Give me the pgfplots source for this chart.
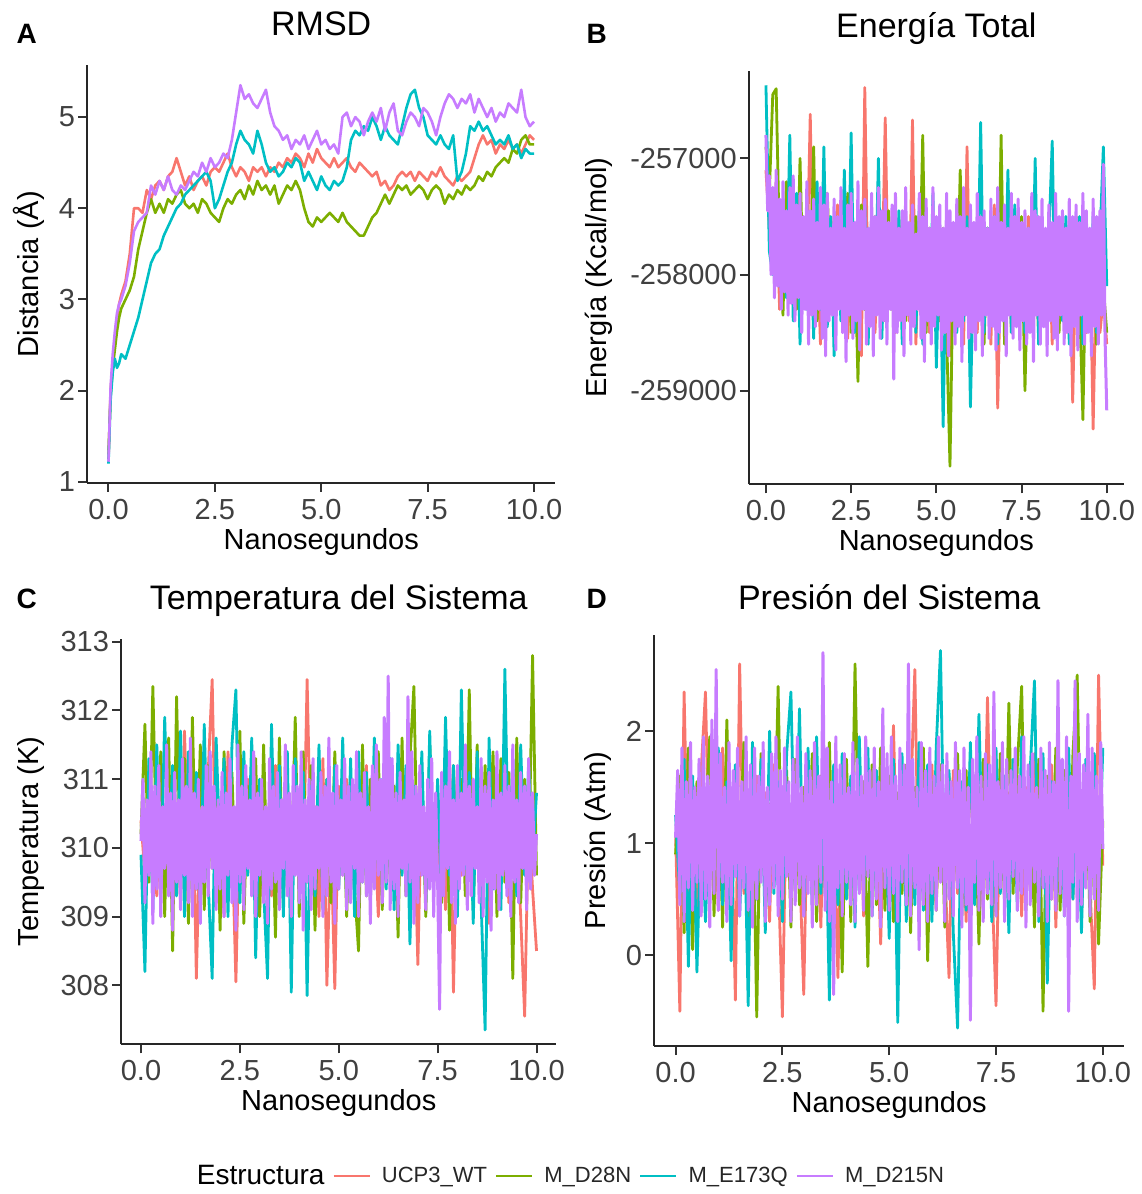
\documentclass[border=0pt]{standalone}
\usepackage{pgfplots}
\pgfplotsset{compat=1.18}
\usepackage{pgfplotstable}
\usepackage{fontspec}
\setmainfont{Liberation Sans}
\newcommand{\fs}[1]{\fontsize{#1}{#1}\selectfont}
\definecolor{cR}{HTML}{F8766D}
\definecolor{cG}{HTML}{7CAE00}
\definecolor{cC}{HTML}{00BFC4}
\definecolor{cP}{HTML}{C77CFF}

\pgfplotstableread{
t r g c p
0.00 1.25 1.30 1.20 1.22
0.05 2.00 1.95 1.90 2.05
0.10 2.30 2.25 2.20 2.40
0.15 2.55 2.45 2.35 2.65
0.20 2.80 2.65 2.25 2.85
0.25 2.95 2.80 2.30 2.95
0.30 3.05 2.90 2.40 3.00
0.40 3.20 3.00 2.35 3.15
0.50 3.50 3.10 2.50 3.40
0.60 4.00 3.25 2.65 3.75
0.70 4.00 3.55 2.80 3.85
0.80 3.95 3.75 3.00 3.90
0.90 4.20 3.95 3.20 3.95
1.00 4.10 4.10 3.40 4.25
1.10 4.25 3.95 3.50 4.15
1.20 4.30 4.05 3.55 4.30
1.30 4.20 3.95 3.70 4.20
1.40 4.35 4.10 3.80 4.35
1.50 4.40 4.05 3.90 4.20
1.60 4.55 4.15 4.00 4.15
1.70 4.40 4.20 4.05 4.25
1.80 4.25 4.05 4.15 4.20
1.90 4.35 4.00 4.20 4.30
2.00 4.20 4.05 4.25 4.40
2.10 4.30 3.95 4.30 4.35
2.20 4.35 4.10 4.35 4.50
2.30 4.25 4.05 4.40 4.40
2.40 4.40 3.95 4.30 4.55
2.50 4.45 3.90 4.00 4.45
2.60 4.40 3.85 4.10 4.50
2.70 4.50 4.00 4.25 4.60
2.80 4.60 4.10 4.40 4.55
2.90 4.45 4.05 4.50 4.75
3.00 4.35 4.15 4.70 5.05
3.10 4.45 4.20 4.85 5.35
3.20 4.40 4.10 4.75 5.20
3.30 4.30 4.25 4.70 5.25
3.40 4.45 4.15 4.60 5.15
3.50 4.40 4.30 4.85 5.10
3.60 4.45 4.20 4.70 5.20
3.70 4.35 4.25 4.50 5.30
3.80 4.45 4.15 4.40 5.05
3.90 4.40 4.25 4.45 4.90
4.00 4.50 4.05 4.35 4.85
4.10 4.45 4.15 4.40 4.75
4.20 4.55 4.25 4.50 4.80
4.30 4.50 4.20 4.45 4.65
4.40 4.60 4.30 4.55 4.75
4.50 4.55 4.20 4.50 4.70
4.60 4.45 4.00 4.30 4.80
4.70 4.60 3.85 4.40 4.65
4.80 4.50 3.80 4.30 4.75
4.90 4.65 3.90 4.20 4.85
5.00 4.55 3.85 4.35 4.70
5.10 4.50 3.90 4.25 4.75
5.20 4.45 3.95 4.20 4.65
5.30 4.55 3.90 4.30 4.70
5.40 4.45 3.85 4.25 4.60
5.50 4.50 3.95 4.30 5.00
5.60 4.55 3.85 4.45 5.05
5.70 4.45 3.80 4.75 4.90
5.80 4.40 3.75 4.85 5.00
5.90 4.50 3.70 4.80 4.95
6.00 4.45 3.70 4.90 4.80
6.10 4.40 3.80 4.85 4.95
6.20 4.35 3.90 5.00 5.05
6.30 4.40 3.95 4.90 4.95
6.40 4.25 4.05 4.75 5.10
6.50 4.30 4.15 4.90 4.85
6.60 4.20 4.05 4.80 5.05
6.70 4.25 4.15 4.75 5.15
6.80 4.35 4.25 4.70 4.85
6.90 4.40 4.20 4.90 4.80
7.00 4.35 4.25 5.10 4.95
7.10 4.40 4.15 5.25 5.05
7.20 4.30 4.20 5.30 5.00
7.30 4.40 4.25 5.10 4.90
7.40 4.35 4.20 5.00 5.10
7.50 4.30 4.10 4.80 5.05
7.60 4.40 4.20 4.75 4.95
7.70 4.35 4.25 4.70 4.80
7.80 4.45 4.20 4.80 5.00
7.90 4.35 4.05 4.70 5.15
8.00 4.30 4.15 4.65 5.25
8.10 4.25 4.10 4.80 5.20
8.20 4.35 4.20 4.30 5.10
8.30 4.30 4.15 4.40 5.20
8.40 4.35 4.25 4.60 5.15
8.50 4.40 4.20 4.90 5.25
8.60 4.55 4.25 4.85 5.05
8.70 4.70 4.35 4.95 5.20
8.80 4.80 4.30 4.85 5.10
8.90 4.70 4.40 4.90 5.00
9.00 4.75 4.35 4.80 5.10
9.10 4.60 4.45 4.70 4.95
9.20 4.70 4.50 4.75 5.05
9.30 4.65 4.55 4.70 5.00
9.40 4.75 4.50 4.80 5.15
9.50 4.65 4.65 4.65 5.10
9.60 4.70 4.60 4.70 5.05
9.70 4.60 4.75 4.55 5.30
9.80 4.70 4.80 4.65 5.00
9.90 4.80 4.70 4.60 4.90
10.00 4.75 4.70 4.60 4.95
}\rmsd

\pgfplotstableread{
t r g c
0.0 -257100 -256900 -256370
0.1 -257600 -257300 -257800
0.2 -257900 -256450 -258000
0.3 -257200 -256400 -257400
0.4 -258300 -257800 -258100
0.5 -257500 -258350 -257600
0.6 -258100 -257200 -258200
0.7 -257400 -258000 -256800
0.8 -258200 -257500 -258400
0.9 -257600 -258300 -257300
1.0 -258450 -257000 -258600
1.1 -257500 -258200 -257700
1.2 -258000 -257400 -258300
1.3 -256620 -258100 -257500
1.4 -258300 -256900 -258550
1.5 -257700 -258400 -257200
1.6 -258600 -257600 -258300
1.7 -257300 -258500 -256900
1.8 -258200 -257300 -258450
1.9 -257700 -258100 -257500
2.0 -258400 -257500 -258700
2.1 -257400 -258300 -257800
2.2 -258300 -257800 -258400
2.3 -257600 -258200 -257100
2.4 -258550 -257300 -258300
2.5 -257500 -258500 -256780
2.6 -258200 -257700 -258500
2.7 -257700 -258920 -257600
2.8 -258700 -257400 -258200
2.9 -256390 -258300 -257400
3.0 -258300 -257600 -258600
3.1 -257600 -258400 -257500
3.2 -258500 -257500 -258300
3.3 -257700 -258200 -257000
3.4 -258200 -257600 -258550
3.5 -256650 -258400 -257700
3.6 -258300 -257450 -258200
3.7 -257550 -258300 -257600
3.8 -258500 -257700 -258400
3.9 -257600 -258200 -257450
4.0 -258250 -257500 -258600
4.1 -257700 -258400 -257500
4.2 -258400 -257600 -258300
4.3 -256670 -258300 -257700
4.4 -258600 -257500 -258500
4.5 -257600 -258200 -257400
4.6 -258300 -256800 -258600
4.7 -257800 -258500 -257500
4.8 -258500 -257600 -258400
4.9 -257500 -258300 -257300
5.0 -258400 -257700 -258800
5.1 -257650 -258400 -257700
5.2 -258300 -257600 -259310
5.3 -257600 -258500 -257500
5.4 -258700 -259650 -258300
5.5 -257700 -257800 -257600
5.6 -258300 -258400 -258500
5.7 -257500 -257100 -257700
5.8 -258600 -258300 -258400
5.9 -256900 -257600 -257500
6.0 -258400 -258500 -259140
6.1 -257700 -257700 -257800
6.2 -258500 -258300 -258300
6.3 -257600 -257500 -256690
6.4 -258300 -258600 -258500
6.5 -257800 -257600 -257600
6.6 -258600 -258400 -258300
6.7 -257400 -257700 -257500
6.8 -259150 -258500 -258600
6.9 -257700 -256800 -257700
7.0 -258300 -258600 -258400
7.1 -257600 -257600 -257100
7.2 -258500 -258300 -258500
7.3 -257500 -257700 -257400
7.4 -258400 -258400 -258300
7.5 -257700 -257500 -257700
7.6 -258600 -259000 -258500
7.7 -257500 -257700 -257600
7.8 -258300 -258300 -258400
7.9 -257600 -257600 -257000
8.0 -258500 -258500 -258600
8.1 -257700 -257700 -257500
8.2 -258400 -258400 -258300
8.3 -257600 -257500 -257700
8.4 -258600 -258300 -256850
8.5 -257500 -257600 -258500
8.6 -258300 -258500 -257600
8.7 -257700 -257600 -258400
8.8 -258500 -258300 -257500
8.9 -257600 -257700 -258600
9.0 -259100 -258400 -257700
9.1 -257700 -257500 -258300
9.2 -258400 -258200 -257500
9.3 -257600 -259250 -258600
9.4 -258500 -257600 -257600
9.5 -257700 -258400 -258400
9.6 -259330 -257700 -257500
9.7 -257800 -258600 -258500
9.8 -258500 -257800 -257700
9.9 -258200 -258100 -256900
10.0 -258600 -258500 -258100
}\energia

\pgfplotstableread{
t r g c
0.0 310.4 310.2 309.9
0.1 309.6 311.8 308.2
0.2 311.2 309.5 311.3
0.3 310.1 312.35 309.1
0.4 309.3 309.8 311.5
0.5 310.8 311.4 309.4
0.6 309.9 309.0 311.9
0.7 311.0 311.6 309.8
0.8 309.5 308.5 311.2
0.9 310.6 312.2 309.3
1.0 309.2 309.6 311.7
1.1 311.7 311.3 309.0
1.2 309.8 308.9 311.4
1.3 311.3 311.9 309.6
1.4 308.1 309.4 311.1
1.5 310.5 311.5 309.2
1.6 309.7 309.1 311.8
1.7 311.1 311.2 309.5
1.8 312.45 309.7 308.1
1.9 309.4 311.0 311.6
2.0 310.3 308.8 309.9
2.1 309.0 311.4 311.3
2.2 311.4 309.6 309.0
2.3 310.2 311.1 311.5
2.4 308.05 309.3 312.3
2.5 310.7 311.7 309.2
2.6 309.6 308.9 311.4
2.7 311.0 310.9 309.6
2.8 309.9 309.5 311.6
2.9 310.4 311.3 308.4
3.0 309.1 309.0 311.0
3.1 310.8 311.5 309.4
3.2 310.0 309.4 308.1
3.3 309.3 310.8 311.8
3.4 311.2 308.7 309.5
3.5 310.5 311.6 311.2
3.6 309.7 309.2 309.0
3.7 310.9 311.0 311.4
3.8 309.2 309.6 307.9
3.9 311.1 311.9 311.3
4.0 310.3 309.0 309.7
4.1 309.5 311.4 311.1
4.2 312.45 309.5 307.85
4.3 309.8 311.2 310.9
4.4 310.6 308.8 309.3
4.5 309.0 311.3 311.5
4.6 311.3 309.7 309.1
4.7 308.0 311.0 311.0
4.8 310.2 309.2 309.6
4.9 307.95 311.4 311.2
5.0 310.9 309.5 309.4
5.1 309.6 311.1 311.6
5.2 311.0 309.0 309.2
5.3 310.1 310.8 311.3
5.4 309.4 309.4 309.0
5.5 310.7 308.5 311.4
5.6 309.9 311.5 309.5
5.7 311.2 309.3 311.1
5.8 309.3 311.0 309.3
5.9 310.4 309.6 311.6
6.0 309.0 311.4 309.7
6.1 310.8 309.1 311.0
6.2 311.5 311.2 309.4
6.3 309.7 309.5 311.3
6.4 310.3 310.9 309.1
6.5 309.2 308.7 311.5
6.6 311.0 311.6 309.6
6.7 310.0 309.3 311.2
6.8 309.5 311.3 308.6
6.9 310.6 312.35 310.9
7.0 308.3 309.4 309.4
7.1 310.9 311.1 311.4
7.2 309.8 309.0 309.2
7.3 311.1 311.5 311.7
7.4 310.2 309.6 309.5
7.5 309.4 310.8 311.0
7.6 310.5 309.2 309.3
7.7 309.1 311.4 311.9
7.8 311.3 308.8 309.6
7.9 307.9 311.2 311.2
8.0 310.7 309.5 309.0
8.1 309.6 311.0 312.3
8.2 310.2 309.3 309.7
8.3 311.0 312.3 311.1
8.4 309.3 309.1 308.9
8.5 310.8 311.5 311.4
8.6 309.9 309.4 309.2
8.7 310.4 311.2 307.35
8.8 308.9 309.7 311.6
8.9 311.2 311.4 309.4
9.0 310.1 309.0 311.0
9.1 309.5 311.3 309.1
9.2 310.6 309.5 312.6
9.3 309.2 311.1 309.5
9.4 311.0 308.1 311.3
9.5 310.3 311.6 309.3
9.6 309.0 309.2 311.5
9.7 307.55 311.0 309.6
9.8 310.5 309.6 311.2
9.9 309.4 312.8 309.8
10.0 308.5 309.6 310.8
}\temp

\pgfplotstableread{
t r g c
0.0 1.10 0.90 1.25
0.1 -0.50 1.60 0.55
0.2 2.35 0.20 1.75
0.3 0.45 1.85 -0.10
0.4 1.40 0.05 1.60
0.5 0.20 1.55 -0.15
0.6 1.65 0.50 1.30
0.7 2.35 1.20 0.30
0.8 0.60 1.95 1.40
0.9 1.50 0.35 0.85
1.0 0.40 1.75 1.85
1.1 1.85 0.25 0.45
1.2 0.85 2.10 1.55
1.3 1.30 0.60 -0.05
1.4 -0.40 1.45 1.70
1.5 2.60 0.90 0.35
1.6 0.55 1.90 1.45
1.7 1.25 0.15 -0.45
1.8 0.35 1.55 1.90
1.9 1.60 -0.55 0.50
2.0 0.75 1.80 1.75
2.1 1.45 0.40 0.20
2.2 0.30 1.35 2.00
2.3 1.70 0.65 0.55
2.4 0.80 2.40 1.55
2.5 -0.55 0.35 0.30
2.6 1.55 1.65 1.80
2.7 0.45 0.25 2.35
2.8 1.35 1.75 0.60
2.9 0.85 0.45 2.20
3.0 -0.35 1.50 0.35
3.1 1.65 0.70 1.85
3.2 0.55 1.80 0.40
3.3 1.40 0.30 1.95
3.4 0.25 1.60 0.55
3.5 1.75 0.55 1.50
3.6 0.65 1.90 -0.40
3.7 1.25 0.40 1.70
3.8 -0.20 1.45 0.45
3.9 1.60 -0.15 1.80
4.0 0.70 1.75 0.50
4.1 1.45 0.30 1.60
4.2 0.45 2.60 0.25
4.3 1.80 0.60 1.95
4.4 0.35 1.55 0.55
4.5 1.50 -0.10 1.85
4.6 0.80 1.70 0.35
4.7 1.35 0.45 1.65
4.8 0.10 1.85 0.80
4.9 1.55 0.40 1.40
5.0 0.60 1.60 0.15
5.1 2.05 0.30 1.75
5.2 0.40 1.45 -0.60
5.3 1.60 0.55 1.80
5.4 0.70 1.70 0.30
5.5 1.35 0.20 1.65
5.6 2.55 1.50 0.45
5.7 0.30 0.60 1.90
5.8 1.45 1.85 0.40
5.9 0.55 -0.05 1.70
6.0 1.70 1.55 0.30
6.1 0.45 0.40 1.85
6.2 1.55 1.70 2.72
6.3 0.80 0.25 0.50
6.4 -0.20 1.60 1.65
6.5 1.65 0.50 0.20
6.6 0.55 1.80 -0.65
6.7 1.40 0.35 1.55
6.8 0.30 1.65 0.40
6.9 1.75 0.60 1.90
7.0 0.65 1.45 0.45
7.1 1.50 0.10 2.15
7.2 0.40 1.75 0.60
7.3 2.30 0.50 1.70
7.4 0.70 1.60 0.30
7.5 -0.45 0.35 1.85
7.6 1.55 1.80 0.55
7.7 0.50 0.45 1.60
7.8 1.45 2.25 0.20
7.9 0.75 0.55 1.75
8.0 1.60 1.70 0.40
8.1 0.35 2.40 1.95
8.2 1.50 0.40 0.55
8.3 0.60 1.55 1.65
8.4 1.80 0.25 2.45
8.5 0.45 1.75 0.30
8.6 1.35 -0.50 1.80
8.7 0.65 1.60 -0.25
8.8 1.70 0.50 1.55
8.9 0.25 1.85 0.45
9.0 1.55 0.40 1.70
9.1 0.75 1.65 0.35
9.2 1.40 0.30 1.85
9.3 0.50 1.80 0.50
9.4 1.65 2.50 1.60
9.5 0.35 0.45 0.20
9.6 1.50 1.70 1.75
9.7 0.60 0.30 0.55
9.8 -0.30 1.55 1.80
9.9 2.50 0.10 0.65
10.0 0.80 1.20 1.85
}\presion

\pgfplotsset{
  panel/.style={
    scale only axis,
    axis lines*=left,
    axis line style={line width=2pt, black!85, -},
    tick align=outside,
    major tick length=9pt,
    tick style={line width=2pt, black!80},
    xmin=-0.5, xmax=10.5,
    xtick={0,2.5,5,7.5,10},
    xticklabels={0.0,2.5,5.0,7.5,10.0},
    scaled ticks=false,
    ticklabel style={font=\fs{29}, text=black!75},
    /pgf/number format/assume math mode=true,
    /pgf/number format/1000 sep={},
    xticklabel style={inner sep=0pt, anchor=north, yshift=-7pt},
    yticklabel style={inner sep=0pt, anchor=east, xshift=-3pt},
    label style={font=\fs{29}, text=black},
    xlabel={Nanosegundos},
    title style={font=\fs{34}, text=black, anchor=base, inner sep=0pt},
    clip=false,
  },
  ser/.style={line width=#1, line join=round},
}

\begin{document}
\begin{tikzpicture}[x=1pt,y=1pt]
\path[use as bounding box] (0,0) rectangle (1141,1194);

% ---------- A: RMSD ----------
\begin{axis}[panel, at={(87.2pt,711.1pt)}, anchor=south west,
  width=468.1pt, height=417.4pt,
  ymin=0.988, ymax=5.566, ytick={1,2,3,4,5}, yticklabels={1,2,3,4,5},
  ylabel={Distancia (Å)},
  ylabel style={at={(axis description cs:-0.103,0.5)}, anchor=base, inner sep=0pt},
  xlabel style={at={(axis description cs:0.5,-0.1591)}, anchor=base, inner sep=0pt},
  title={RMSD}, title style={at={(axis description cs:0.5,1.057)}}]
\addplot[cR, ser=2.6pt] table[x=t,y=r] {\rmsd};
\addplot[cG, ser=2.6pt] table[x=t,y=g] {\rmsd};
\addplot[cC, ser=2.6pt] table[x=t,y=c] {\rmsd};
\addplot[cP, ser=2.6pt] table[x=t,y=p] {\rmsd};
\end{axis}

% ---------- B: Energia ----------
\begin{axis}[panel, at={(748.9pt,709.7pt)}, anchor=south west,
  width=374.9pt, height=413.3pt,
  ymin=-259806, ymax=-256247, ytick={-259000,-258000,-257000},
  yticklabels={-259000,-258000,-257000},
  ylabel={Energía (Kcal/mol)},
  ylabel style={at={(axis description cs:-0.3801,0.5)}, anchor=base, inner sep=0pt},
  xlabel style={at={(axis description cs:0.5,-0.1607)}, anchor=base, inner sep=0pt},
  title={Energía Total}, title style={at={(axis description cs:0.5,1.0661)}}]
\addplot[cR, ser=2.8pt] table[x=t,y=r] {\energia};
\addplot[cG, ser=2.8pt] table[x=t,y=g] {\energia};
\addplot[cC, ser=2.8pt] table[x=t,y=c] {\energia};
\addplot[cP, ser=3pt] coordinates {
(0.00,-256800)(0.05,-257450)(0.10,-257150)(0.15,-258000)(0.20,-257250)(0.25,-258200)(0.30,-257100)(0.35,-258100)(0.40,-257350)(0.45,-258300)
(0.50,-257200)(0.55,-258150)(0.60,-257450)(0.65,-258350)(0.70,-257250)(0.75,-258250)(0.80,-257150)(0.85,-258400)(0.90,-257400)(0.95,-258200)
(1.00,-257300)(1.05,-258500)(1.10,-257500)(1.15,-258300)(1.20,-257200)(1.25,-258600)(1.30,-257450)(1.35,-258350)(1.40,-257350)(1.45,-258450)
(1.50,-257550)(1.55,-258300)(1.60,-257250)(1.65,-258550)(1.70,-257400)(1.75,-258700)(1.80,-257300)(1.85,-258400)(1.90,-257600)(1.95,-258350)
(2.00,-257350)(2.05,-258650)(2.10,-257500)(2.15,-258300)(2.20,-257250)(2.25,-258500)(2.30,-257600)(2.35,-258750)(2.40,-257400)(2.45,-258350)
(2.50,-257300)(2.55,-258550)(2.60,-257550)(2.65,-258400)(2.70,-257200)(2.75,-258650)(2.80,-257450)(2.85,-258300)(2.90,-257350)(2.95,-258600)
(3.00,-257600)(3.05,-258450)(3.10,-257300)(3.15,-258700)(3.20,-257500)(3.25,-258350)(3.30,-257250)(3.35,-258550)(3.40,-257450)(3.45,-258400)
(3.50,-257350)(3.55,-258600)(3.60,-257550)(3.65,-258300)(3.70,-257400)(3.75,-258900)(3.80,-257300)(3.85,-258500)(3.90,-257600)(3.95,-258400)
(4.00,-257450)(4.05,-258700)(4.10,-257250)(4.15,-258350)(4.20,-257550)(4.25,-258600)(4.30,-257400)(4.35,-258450)(4.40,-257650)(4.45,-258300)
(4.50,-257300)(4.55,-258550)(4.60,-257500)(4.65,-258750)(4.70,-257350)(4.75,-258400)(4.80,-257600)(4.85,-258600)(4.90,-257250)(4.95,-258450)
(5.00,-257500)(5.05,-258350)(5.10,-257400)(5.15,-258650)(5.20,-257600)(5.25,-258500)(5.30,-257300)(5.35,-258700)(5.40,-257450)(5.45,-258400)
(5.50,-257550)(5.55,-258600)(5.60,-257350)(5.65,-258450)(5.70,-257500)(5.75,-258750)(5.80,-257250)(5.85,-258350)(5.90,-257600)(5.95,-258550)
(6.00,-257400)(6.05,-258500)(6.10,-257550)(6.15,-258650)(6.20,-257300)(6.25,-258400)(6.30,-257500)(6.35,-258700)(6.40,-257450)(6.45,-258350)
(6.50,-257600)(6.55,-258550)(6.60,-257350)(6.65,-258450)(6.70,-257500)(6.75,-258650)(6.80,-257250)(6.85,-258500)(6.90,-257550)(6.95,-258400)
(7.00,-257400)(7.05,-258700)(7.10,-257600)(7.15,-258350)(7.20,-257300)(7.25,-258550)(7.30,-257500)(7.35,-258450)(7.40,-257350)(7.45,-258650)
(7.50,-257550)(7.55,-258400)(7.60,-257450)(7.65,-258600)(7.70,-257600)(7.75,-258500)(7.80,-257300)(7.85,-258750)(7.90,-257450)(7.95,-258350)
(8.00,-257500)(8.05,-258600)(8.10,-257350)(8.15,-258450)(8.20,-257600)(8.25,-258700)(8.30,-257400)(8.35,-258400)(8.40,-257550)(8.45,-258550)
(8.50,-257300)(8.55,-258650)(8.60,-257500)(8.65,-258350)(8.70,-257450)(8.75,-258600)(8.80,-257600)(8.85,-258500)(8.90,-257350)(8.95,-258700)
(9.00,-257500)(9.05,-258450)(9.10,-257400)(9.15,-258650)(9.20,-257550)(9.25,-258350)(9.30,-257300)(9.35,-258600)(9.40,-257450)(9.45,-258500)
(9.50,-257600)(9.55,-258700)(9.60,-257350)(9.65,-258450)(9.70,-257500)(9.75,-258600)(9.80,-257450)(9.85,-258350)(9.90,-257050)(9.95,-258550)
(10.00,-259170)};
\end{axis}

% ---------- C: Temperatura ----------
\begin{axis}[panel, at={(121.2pt,149.6pt)}, anchor=south west,
  width=435.1pt, height=405.4pt,
  ymin=307.14, ymax=313.04, ytick={308,309,310,311,312,313},
  yticklabels={308,309,310,311,312,313},
  ylabel={Temperatura (K)},
  ylabel style={at={(axis description cs:-0.1912,0.5)}, anchor=base, inner sep=0pt},
  xlabel style={at={(axis description cs:0.5,-0.1638)}, anchor=base, inner sep=0pt},
  title={Temperatura del Sistema}, title style={at={(axis description cs:0.5,1.0582)}},
  legend style={at={(axis description cs:1.0326,-0.3246)}, anchor=center,
    draw=none, fill=none, legend columns=-1, inner sep=0pt,
    font=\fs{22}, text=black!85,
    /tikz/every even column/.append style={column sep=8pt},
    nodes={inner sep=0pt}},
  legend cell align=left,
  legend image code/.code={\draw[#1, line width=2.4pt] (0pt,0pt) -- (36pt,0pt);},
]
\addlegendimage{empty legend}
\addlegendentry{\fs{28}\color{black}Estructura\hspace{-6pt}}
\addplot[cR, ser=2.8pt] table[x=t,y=r] {\temp};
\addlegendentry{\hspace{11pt}UCP3\_WT}
\addplot[cG, ser=2.8pt] table[x=t,y=g] {\temp};
\addlegendentry{\hspace{11pt}M\_D28N}
\addplot[cC, ser=2.8pt] table[x=t,y=c] {\temp};
\addlegendentry{\hspace{11pt}M\_E173Q}
\addplot[cP, ser=3pt] coordinates {
(0.00,310.1)(0.05,311.0)(0.10,309.2)(0.15,310.7)(0.20,309.6)(0.25,311.4)(0.30,308.9)(0.35,310.9)(0.40,309.4)(0.45,311.2)
(0.50,309.0)(0.55,310.6)(0.60,309.7)(0.65,311.5)(0.70,309.3)(0.75,310.8)(0.80,308.8)(0.85,311.1)(0.90,309.5)(0.95,310.7)
(1.00,309.1)(1.05,311.3)(1.10,309.6)(1.15,310.9)(1.20,309.2)(1.25,311.6)(1.30,309.0)(1.35,310.8)(1.40,309.4)(1.45,311.0)
(1.50,308.9)(1.55,310.6)(1.60,309.5)(1.65,311.2)(1.70,309.3)(1.75,311.4)(1.80,309.7)(1.85,310.9)(1.90,309.1)(1.95,310.7)
(2.00,309.4)(2.05,311.1)(2.10,309.0)(2.15,310.8)(2.20,309.6)(2.25,311.3)(2.30,309.2)(2.35,310.6)(2.40,308.8)(2.45,311.5)
(2.50,309.5)(2.55,310.9)(2.60,309.1)(2.65,311.2)(2.70,309.7)(2.75,310.7)(2.80,309.3)(2.85,311.4)(2.90,309.0)(2.95,310.8)
(3.00,309.6)(3.05,311.0)(3.10,309.2)(3.15,310.6)(3.20,308.9)(3.25,311.3)(3.30,309.4)(3.35,310.9)(3.40,309.5)(3.45,311.1)
(3.50,309.1)(3.55,310.7)(3.60,309.7)(3.65,311.5)(3.70,309.3)(3.75,310.8)(3.80,309.0)(3.85,311.2)(3.90,309.6)(3.95,310.9)
(4.00,309.2)(4.05,311.4)(4.10,308.8)(4.15,310.7)(4.20,309.5)(4.25,311.0)(4.30,309.1)(4.35,311.3)(4.40,309.4)(4.45,310.6)
(4.50,309.7)(4.55,311.1)(4.60,309.0)(4.65,310.9)(4.70,309.3)(4.75,311.6)(4.80,309.5)(4.85,310.8)(4.90,308.9)(4.95,311.2)
(5.00,309.4)(5.05,310.7)(5.10,309.6)(5.15,311.3)(5.20,309.1)(5.25,310.9)(5.30,309.2)(5.35,311.0)(5.40,309.7)(5.45,311.4)
(5.50,309.0)(5.55,310.8)(5.60,309.5)(5.65,311.1)(5.70,309.3)(5.75,310.6)(5.80,308.9)(5.85,311.2)(5.90,309.4)(5.95,311.5)
(6.00,309.6)(6.05,311.0)(6.10,309.2)(6.15,311.9)(6.20,309.5)(6.25,312.5)(6.30,309.1)(6.35,311.3)(6.40,309.4)(6.45,310.8)
(6.50,309.0)(6.55,311.1)(6.60,309.7)(6.65,310.7)(6.70,309.3)(6.75,312.2)(6.80,309.5)(6.85,311.4)(6.90,308.9)(6.95,310.9)
(7.00,309.2)(7.05,311.2)(7.10,309.6)(7.15,310.6)(7.20,309.1)(7.25,311.0)(7.30,309.4)(7.35,311.3)(7.40,309.0)(7.45,310.8)
(7.50,309.5)(7.55,307.65)(7.60,311.1)(7.65,309.3)(7.70,310.9)(7.75,309.7)(7.80,311.4)(7.85,309.2)(7.90,310.7)(7.95,308.9)
(8.00,311.2)(8.05,309.4)(8.10,310.8)(8.15,309.6)(8.20,311.5)(8.25,309.1)(8.30,310.9)(8.35,309.3)(8.40,311.0)(8.45,309.7)
(8.50,310.6)(8.55,309.2)(8.60,311.3)(8.65,309.0)(8.70,310.9)(8.75,309.5)(8.80,311.1)(8.85,308.8)(8.90,310.7)(8.95,309.4)
(9.00,311.4)(9.05,309.1)(9.10,310.8)(9.15,309.6)(9.20,311.2)(9.25,309.3)(9.30,310.9)(9.35,309.0)(9.40,311.5)(9.45,309.5)
(9.50,310.7)(9.55,309.2)(9.60,311.1)(9.65,309.7)(9.70,310.9)(9.75,309.1)(9.80,311.3)(9.85,309.4)(9.90,310.8)(9.95,309.6)
(10.00,310.2)};
\addlegendentry{\hspace{11pt}M\_D215N}
\end{axis}

% ---------- D: Presion ----------
\begin{axis}[panel, at={(654.2pt,148pt)}, anchor=south west,
  width=470pt, height=411.2pt,
  ymin=-0.81, ymax=2.86, ytick={0,1,2}, yticklabels={0,1,2},
  ylabel={Presión (Atm)},
  ylabel style={at={(axis description cs:-0.104,0.5)}, anchor=base, inner sep=0pt},
  xlabel style={at={(axis description cs:0.5,-0.1615)}, anchor=base, inner sep=0pt},
  title={Presión del Sistema}, title style={at={(axis description cs:0.5,1.0469)}}]
\addplot[cR, ser=2.8pt] table[x=t,y=r] {\presion};
\addplot[cG, ser=2.8pt] table[x=t,y=g] {\presion};
\addplot[cC, ser=2.8pt] table[x=t,y=c] {\presion};
\addplot[cP, ser=3pt] coordinates {
(0.00,1.05)(0.05,1.65)(0.10,0.45)(0.15,1.85)(0.20,0.30)(0.25,1.55)(0.30,0.60)(0.35,1.90)(0.40,0.40)(0.45,1.50)
(0.50,0.65)(0.55,1.75)(0.60,0.35)(0.65,1.95)(0.70,0.50)(0.75,1.60)(0.80,0.25)(0.85,2.10)(0.90,0.55)(0.95,2.55)
(1.00,0.40)(1.05,1.80)(1.10,0.65)(1.15,1.50)(1.20,0.30)(1.25,1.90)(1.30,0.45)(1.35,1.65)(1.40,0.70)(1.45,1.85)
(1.50,0.35)(1.55,1.55)(1.60,0.60)(1.65,1.95)(1.70,0.40)(1.75,1.70)(1.80,0.25)(1.85,1.85)(1.90,0.50)(1.95,1.60)
(2.00,0.65)(2.05,1.90)(2.10,0.30)(2.15,1.50)(2.20,0.45)(2.25,1.80)(2.30,0.60)(2.35,1.95)(2.40,0.35)(2.45,1.65)
(2.50,0.50)(2.55,1.85)(2.60,0.70)(2.65,1.55)(2.70,0.30)(2.75,1.75)(2.80,0.45)(2.85,1.95)(2.90,0.60)(2.95,1.50)
(3.00,0.35)(3.05,1.80)(3.10,0.55)(3.15,1.65)(3.20,0.25)(3.25,1.90)(3.30,0.45)(3.35,1.60)(3.40,0.65)(3.45,2.70)
(3.50,0.40)(3.55,1.85)(3.60,0.30)(3.65,1.55)(3.70,-0.35)(3.75,1.95)(3.80,0.60)(3.85,1.70)(3.90,0.35)(3.95,1.80)
(4.00,0.65)(4.05,1.50)(4.10,0.45)(4.15,1.90)(4.20,0.30)(4.25,1.75)(4.30,0.55)(4.35,1.60)(4.40,0.40)(4.45,1.95)
(4.50,0.70)(4.55,1.65)(4.60,0.35)(4.65,1.85)(4.70,0.50)(4.75,1.55)(4.80,0.25)(4.85,2.20)(4.90,0.60)(4.95,1.80)
(5.00,0.40)(5.05,1.95)(5.10,0.55)(5.15,1.60)(5.20,0.30)(5.25,1.85)(5.30,0.65)(5.35,1.70)(5.40,0.45)(5.45,2.60)
(5.50,0.35)(5.55,1.75)(5.60,0.60)(5.65,1.50)(5.70,0.05)(5.75,1.90)(5.80,0.45)(5.85,1.65)(5.90,0.30)(5.95,1.85)
(6.00,0.55)(6.05,1.60)(6.10,0.40)(6.15,1.95)(6.20,0.65)(6.25,1.70)(6.30,0.30)(6.35,1.80)(6.40,0.50)(6.45,1.55)
(6.50,0.35)(6.55,1.90)(6.60,0.60)(6.65,1.65)(6.70,0.25)(6.75,1.85)(6.80,0.45)(6.85,1.50)(6.90,-0.58)(6.95,1.75)
(7.00,0.65)(7.05,1.95)(7.10,0.40)(7.15,1.60)(7.20,0.30)(7.25,1.80)(7.30,0.55)(7.35,1.70)(7.40,0.45)(7.45,2.35)
(7.50,0.35)(7.55,1.55)(7.60,0.60)(7.65,1.90)(7.70,0.30)(7.75,1.75)(7.80,0.50)(7.85,1.65)(7.90,0.70)(7.95,1.85)
(8.00,0.40)(8.05,1.60)(8.10,0.55)(8.15,1.95)(8.20,0.25)(8.25,1.70)(8.30,0.45)(8.35,1.80)(8.40,0.65)(8.45,1.50)
(8.50,0.35)(8.55,1.85)(8.60,0.60)(8.65,1.65)(8.70,0.30)(8.75,1.90)(8.80,0.50)(8.85,1.55)(8.90,0.40)(8.95,2.45)
(9.00,0.55)(9.05,1.75)(9.10,0.35)(9.15,1.95)(9.20,-0.50)(9.25,1.60)(9.30,0.65)(9.35,2.45)(9.40,0.30)(9.45,1.80)
(9.50,0.45)(9.55,1.70)(9.60,0.60)(9.65,2.15)(9.70,0.35)(9.75,1.85)(9.80,0.50)(9.85,1.60)(9.90,0.40)(9.95,1.90)
(10.00,0.95)};
\end{axis}

\node[anchor=base west, font=\bfseries\fs{28}, inner sep=0pt] at (16.4,1150.4) {A};
\node[anchor=base west, font=\bfseries\fs{28}, inner sep=0pt] at (586.4,1150.3) {B};
\node[anchor=base west, font=\bfseries\fs{28}, inner sep=0pt] at (16.4,585.8) {C};
\node[anchor=base west, font=\bfseries\fs{28}, inner sep=0pt] at (586.4,585.8) {D};
\end{tikzpicture}
\end{document}
